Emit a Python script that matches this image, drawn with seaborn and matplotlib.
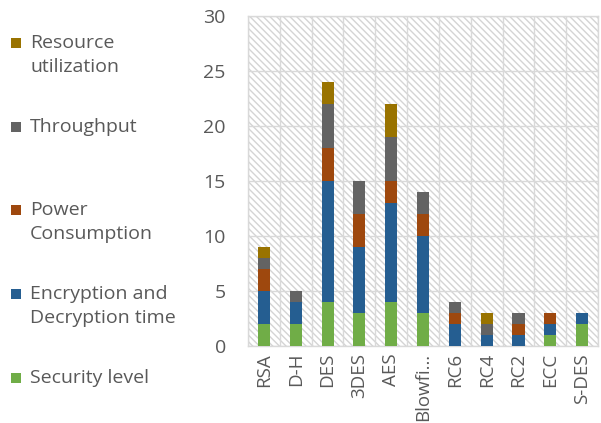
import matplotlib
matplotlib.use("Agg")
import matplotlib.pyplot as plt
import seaborn as sns
import pandas as pd
import numpy as np
from matplotlib.patches import Rectangle

categories = ["RSA", "D-H", "DES", "3DES", "AES", "Blowfi…", "RC6", "RC4", "RC2", "ECC", "S-DES"]
security_level = [2, 2, 4, 3, 4, 3, 0, 0, 0, 1, 2]
enc_dec_time = [3, 2, 11, 6, 9, 7, 2, 1, 1, 1, 1]
power_consumption = [2, 0, 3, 3, 2, 2, 1, 0, 1, 1, 0]
throughput = [1, 1, 4, 3, 4, 2, 1, 1, 1, 0, 0]
resource_util = [1, 0, 2, 0, 3, 0, 0, 1, 0, 0, 0]

series_names = ["Security level", "Encryption and\nDecryption time", "Power\nConsumption",
                "Throughput", "Resource\nutilization"]
series_values = [security_level, enc_dec_time, power_consumption, throughput, resource_util]
colors = ["#70AD47", "#255E91", "#9E480E", "#636363", "#997300"]

sns.set_theme(style="white")
plt.rcParams['font.family'] = ['Open Sans', 'DejaVu Sans']
plt.rcParams['hatch.linewidth'] = 1.0
plt.rcParams['hatch.color'] = '#d4d4d4'

fig = plt.figure(figsize=(6.01, 4.23), dpi=100)
ax = fig.add_axes([248/601, 1 - 346/423, 350/601, 330/423])

cum = np.zeros(len(categories))
cums = []
for v in series_values:
    cum = cum + np.array(v)
    cums.append(cum.copy())

# background hatch
ax.add_patch(Rectangle((0, 0), 1, 1, transform=ax.transAxes, facecolor="white",
                       edgecolor="#d4d4d4", hatch="\\\\\\\\\\", lw=0, zorder=0))

for i in reversed(range(len(series_values))):
    d = pd.DataFrame({"cat": categories, "val": cums[i]})
    sns.barplot(data=d, x="cat", y="val", color=colors[i], width=0.38,
                saturation=1, ax=ax, zorder=3, linewidth=0)

ax.set_ylim(0, 30)
ax.set_xlim(-0.5, len(categories) - 0.5)
ax.set_yticks(range(0, 31, 5))
ax.set_xlabel("")
ax.set_ylabel("")
ax.set_xticks(range(len(categories)))
ax.set_xticklabels(categories, rotation=90, fontsize=13.5, color="#595959")
ax.tick_params(axis="y", labelsize=14, colors="#595959", length=0, pad=16)
ax.tick_params(axis="x", length=0, pad=5)
ax.set_xticks(np.arange(-0.5, len(categories), 1), minor=True)
ax.grid(False)
ax.grid(True, which="minor", axis="x", color="#d9d9d9", lw=1, zorder=1)
ax.grid(True, which="major", axis="y", color="#d9d9d9", lw=1, zorder=1)
ax.set_axisbelow(True)
for s in ax.spines.values():
    s.set_color("#d9d9d9")
    s.set_linewidth(1)

# legend, manually placed
legend_y = [43, 127, 210, 294, 378]
legend_items = list(zip(series_names, colors))[::-1]
for (name, c), y in zip(legend_items, legend_y):
    fig.patches.append(Rectangle((11/601, 1 - (y + 5)/423), 10/601, 10/423,
                                 transform=fig.transFigure, facecolor=c, edgecolor="none"))
    fig.text(30/601, 1 - (y - 9)/423, name, fontsize=14, color="#595959",
             va="top", ha="left", linespacing=1.45)

fig.savefig("out.png", dpi=100)
